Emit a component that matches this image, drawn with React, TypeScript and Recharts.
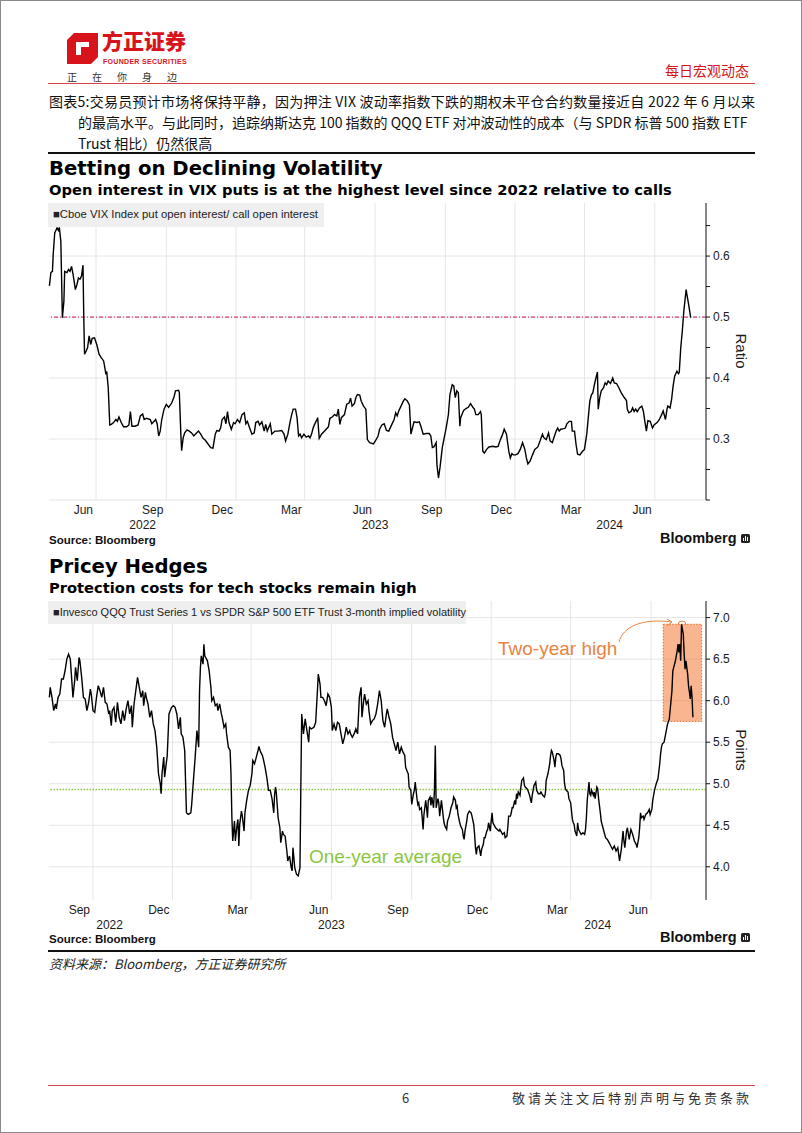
import React from "react";
import {
  LineChart,
  Line,
  XAxis,
  YAxis,
  CartesianGrid,
  ReferenceLine,
  ReferenceArea,
} from "recharts";

// x values are days counted from 1 Jan 2022
const vixDay = [
  90, 92, 94, 95, 97, 100, 102, 103, 105, 107, 109, 110, 113, 115, 117, 119, 121, 124, 126, 128,
  130, 132, 134, 135, 136, 138, 140, 142, 144, 146, 149, 152, 155, 158, 161, 164, 165, 167, 169, 171,
  174, 177, 179, 181, 184, 187, 191, 194, 196, 198, 202, 206, 209, 212, 214, 217, 222, 224, 227, 229,
  231, 233, 235, 237, 240, 243, 246, 250, 253, 255, 259, 260, 262, 263, 265, 267, 270, 273, 276, 279,
  281, 285, 288, 291, 294, 298, 301, 304, 307, 309, 312, 314, 316, 319, 321, 323, 325, 328, 331, 333,
  336, 339, 342, 345, 347, 349, 352, 355, 358, 360, 363, 365, 368, 371, 373, 375, 379, 381, 385, 389,
  394, 397, 399, 402, 405, 407, 409, 412, 414, 416, 418, 420, 423, 426, 429, 431, 433, 435, 437, 440,
  441, 443, 446, 450, 455, 457, 460, 463, 466, 468, 470, 472, 476, 479, 482, 484, 486, 489, 491, 493,
  496, 498, 501, 504, 506, 509, 514, 517, 520, 522, 525, 528, 531, 534, 538, 541, 543, 545, 547, 550,
  553, 555, 558, 561, 563, 565, 567, 571, 574, 576, 579, 583, 587, 589, 591, 593, 596, 597, 599, 601,
  604, 609, 612, 614, 617, 619, 621, 623, 625, 627, 628, 632, 635, 638, 641, 644, 646, 648, 651, 654,
  655, 657, 659, 662, 665, 670, 674, 677, 680, 683, 685, 688, 691, 693, 695, 697, 700, 703, 706, 709,
  712, 714, 716, 719, 722, 725, 729, 732, 735, 737, 740, 743, 745, 748, 750, 753, 755, 757, 759, 763,
  765, 767, 770, 773, 774, 777, 779, 781, 784, 787, 790, 793, 795, 797, 799, 801, 803, 805, 807, 808,
  810, 812, 815, 817, 819, 821, 824, 827, 829, 832, 835, 838, 842, 845, 846, 848, 851, 853, 855, 857,
  859, 862, 865, 867, 869, 871, 873, 876, 879, 881, 885, 888, 891, 893, 896, 898, 899, 902, 904, 906,
  908, 911, 913, 914, 916, 918, 920, 923, 924, 926, 928, 929,
];
const vixRatio = [
  0.551, 0.573, 0.575, 0.603, 0.638, 0.646, 0.642, 0.647, 0.624, 0.499, 0.526, 0.575, 0.573, 0.578, 0.575, 0.583, 0.57, 0.545, 0.553, 0.564,
  0.562, 0.567, 0.585, 0.499, 0.439, 0.444, 0.45, 0.469, 0.455, 0.465, 0.466, 0.455, 0.439, 0.433, 0.428, 0.406, 0.411, 0.384, 0.323, 0.324,
  0.327, 0.332, 0.329, 0.336, 0.327, 0.32, 0.32, 0.323, 0.345, 0.321, 0.321, 0.323, 0.338, 0.341, 0.332, 0.334, 0.332, 0.325, 0.329, 0.332,
  0.325, 0.305, 0.313, 0.332, 0.349, 0.357, 0.352, 0.359, 0.369, 0.379, 0.38, 0.376, 0.308, 0.281, 0.302, 0.31, 0.315, 0.313, 0.31, 0.305,
  0.308, 0.313, 0.308, 0.301, 0.298, 0.291, 0.286, 0.285, 0.308, 0.314, 0.313, 0.318, 0.332, 0.336, 0.325, 0.345, 0.327, 0.316, 0.327, 0.325,
  0.332, 0.327, 0.34, 0.343, 0.325, 0.329, 0.318, 0.308, 0.31, 0.327, 0.329, 0.323, 0.328, 0.313, 0.324, 0.313, 0.325, 0.308, 0.313, 0.313,
  0.314, 0.308, 0.297, 0.308, 0.329, 0.34, 0.349, 0.349, 0.335, 0.305, 0.308, 0.302, 0.308, 0.303, 0.305, 0.302, 0.308, 0.318, 0.324, 0.332,
  0.335, 0.301, 0.308, 0.313, 0.32, 0.334, 0.336, 0.34, 0.338, 0.349, 0.324, 0.335, 0.34, 0.357, 0.359, 0.367, 0.354, 0.358, 0.368, 0.373,
  0.372, 0.362, 0.354, 0.349, 0.299, 0.294, 0.292, 0.298, 0.305, 0.316, 0.323, 0.325, 0.314, 0.313, 0.324, 0.332, 0.343, 0.338, 0.346, 0.354,
  0.362, 0.366, 0.363, 0.356, 0.308, 0.318, 0.328, 0.327, 0.328, 0.321, 0.308, 0.309, 0.309, 0.305, 0.286, 0.287, 0.294, 0.258, 0.236, 0.253,
  0.286, 0.318, 0.34, 0.373, 0.389, 0.387, 0.368, 0.379, 0.376, 0.321, 0.335, 0.347, 0.35, 0.352, 0.358, 0.352, 0.349, 0.34, 0.34, 0.345,
  0.34, 0.28, 0.277, 0.283, 0.287, 0.288, 0.287, 0.288, 0.299, 0.308, 0.316, 0.308, 0.28, 0.269, 0.276, 0.274, 0.274, 0.276, 0.283, 0.294,
  0.283, 0.269, 0.259, 0.264, 0.274, 0.283, 0.287, 0.297, 0.308, 0.302, 0.299, 0.31, 0.297, 0.294, 0.302, 0.313, 0.318, 0.313, 0.316, 0.317,
  0.318, 0.325, 0.329, 0.329, 0.313, 0.313, 0.291, 0.275, 0.274, 0.279, 0.283, 0.308, 0.335, 0.362, 0.372, 0.376, 0.389, 0.4, 0.41, 0.349,
  0.368, 0.379, 0.384, 0.392, 0.389, 0.395, 0.391, 0.4, 0.392, 0.391, 0.384, 0.376, 0.368, 0.363, 0.349, 0.343, 0.345, 0.351, 0.345, 0.349,
  0.345, 0.351, 0.354, 0.346, 0.329, 0.313, 0.33, 0.329, 0.318, 0.323, 0.327, 0.332, 0.34, 0.346, 0.332, 0.349, 0.354, 0.351, 0.365, 0.387,
  0.403, 0.411, 0.407, 0.409, 0.45, 0.477, 0.51, 0.545, 0.537, 0.523, 0.507, 0.499,
];

const qqqDay = [
  193, 194, 196, 198, 200, 201, 203, 205, 207, 209, 211, 213, 215, 217, 219, 220, 222, 223, 225, 227,
  228, 230, 232, 234, 236, 238, 240, 241, 243, 245, 247, 249, 251, 253, 255, 257, 259, 261, 262, 264,
  265, 267, 269, 271, 273, 275, 277, 279, 281, 283, 285, 287, 288, 290, 292, 294, 296, 298, 300, 301,
  303, 304, 306, 308, 310, 312, 314, 316, 318, 320, 321, 322, 324, 325, 328, 330, 333, 335, 337, 339,
  341, 343, 344, 346, 348, 350, 352, 355, 356, 358, 360, 362, 364, 365, 366, 367, 369, 370, 371, 372,
  374, 376, 378, 379, 381, 383, 385, 386, 388, 390, 391, 393, 395, 396, 398, 400, 401, 402, 403, 405,
  406, 408, 409, 410, 411, 413, 414, 416, 417, 419, 421, 423, 425, 426, 428, 430, 432, 433, 435, 437,
  438, 440, 442, 444, 446, 448, 450, 451, 452, 453, 455, 457, 458, 460, 461, 463, 465, 466, 468, 470,
  471, 472, 474, 476, 478, 480, 481, 482, 484, 486, 488, 490, 491, 493, 496, 498, 500, 501, 503, 504,
  506, 508, 510, 512, 514, 516, 517, 519, 521, 523, 525, 527, 529, 531, 533, 535, 537, 538, 540, 542,
  544, 546, 548, 550, 551, 553, 554, 556, 558, 559, 561, 563, 565, 567, 569, 571, 573, 575, 577, 579,
  580, 582, 584, 586, 588, 590, 592, 594, 596, 598, 600, 601, 603, 604, 605, 607, 608, 610, 611, 612,
  614, 615, 616, 617, 619, 620, 621, 622, 624, 625, 626, 627, 629, 630, 631, 633, 634, 635, 636, 638,
  639, 640, 642, 643, 644, 645, 646, 648, 649, 651, 653, 655, 656, 658, 659, 660, 661, 663, 664, 666,
  667, 668, 669, 671, 672, 674, 676, 677, 679, 680, 681, 682, 683, 685, 686, 687, 688, 690, 691, 692,
  694, 695, 696, 698, 699, 700, 701, 703, 704, 706, 708, 709, 710, 712, 714, 715, 717, 718, 719, 721,
  722, 723, 724, 726, 727, 728, 729, 730, 732, 733, 734, 736, 737, 738, 740, 741, 743, 745, 746, 747,
  748, 750, 751, 753, 755, 756, 758, 760, 761, 762, 764, 766, 767, 768, 769, 771, 772, 773, 774, 776,
  778, 779, 780, 782, 783, 784, 785, 787, 788, 790, 792, 793, 794, 795, 797, 798, 799, 801, 802, 804,
  806, 807, 808, 809, 811, 812, 813, 814, 816, 817, 818, 820, 821, 822, 824, 825, 827, 829, 830, 832,
  834, 836, 838, 840, 842, 844, 846, 848, 850, 851, 852, 854, 855, 857, 859, 861, 863, 865, 866, 868,
  869, 870, 871, 873, 874, 876, 878, 880, 881, 883, 884, 886, 888, 890, 892, 893, 894, 895, 897, 901,
  903, 906, 907, 909, 910, 912, 913, 914, 915, 916, 917, 919, 920, 921, 922, 924, 925, 927, 928, 929,
  930,
];
const qqqSpread = [
  6.04, 6.16, 6.04, 5.88, 5.96, 5.9, 6.04, 6.08, 6.26, 6.26, 6.36, 6.5, 6.56, 6.5, 6.2, 6.04, 6.24, 6.4, 6.24, 6.52,
  6.48, 6.28, 6.04, 6.02, 5.88, 5.98, 6.14, 6.08, 5.88, 5.86, 6.04, 6.18, 6.12, 6.04, 6.16, 5.98, 5.96, 5.84, 5.88, 5.7,
  5.88, 5.92, 5.74, 5.98, 5.8, 5.72, 5.88, 5.76, 5.9, 6.0, 5.84, 5.94, 5.68, 5.96, 6.12, 6.28, 6.16, 6.04, 6.12, 5.94,
  6.1, 6.04, 5.96, 5.8, 5.88, 5.72, 5.64, 5.44, 5.12, 5.0, 4.88, 5.12, 5.32, 5.08, 5.34, 5.84, 5.92, 5.94, 5.92, 5.84,
  5.66, 5.8, 5.6, 5.56, 5.4, 4.65, 4.63, 4.65, 4.75, 5.04, 5.32, 5.64, 5.44, 6.12, 6.4, 6.54, 6.44, 6.68, 6.54, 6.52,
  6.48, 6.36, 6.16, 6.0, 6.04, 5.94, 5.96, 5.88, 5.96, 5.84, 5.8, 5.68, 5.72, 5.6, 5.44, 5.4, 5.12, 4.61, 4.31, 4.55,
  4.31, 4.51, 4.57, 4.25, 4.51, 4.67, 4.61, 4.43, 4.65, 4.8, 4.92, 4.98, 5.12, 5.28, 5.24, 5.32, 5.4, 5.45, 5.38, 5.34,
  5.3, 5.2, 5.08, 4.92, 4.92, 4.82, 4.65, 4.88, 4.96, 4.88, 4.59, 4.47, 4.29, 4.43, 4.39, 4.37, 4.19, 4.07, 4.13, 3.99,
  3.95, 4.23, 3.99, 3.91, 3.89, 3.99, 4.96, 5.84, 5.6, 5.78, 5.64, 5.5, 5.68, 5.66, 5.68, 5.74, 6.12, 6.32, 6.2, 6.04,
  6.04, 6.0, 5.94, 6.08, 6.04, 5.92, 5.64, 5.72, 5.64, 5.74, 5.72, 5.6, 5.48, 5.56, 5.68, 5.6, 5.64, 5.6, 5.56, 5.6,
  5.66, 5.6, 6.04, 6.16, 5.8, 6.0, 6.08, 5.96, 6.0, 5.88, 5.72, 5.76, 5.78, 5.84, 5.96, 6.12, 6.0, 5.76, 5.68, 5.84,
  5.9, 5.8, 5.72, 5.56, 5.48, 5.4, 5.5, 5.36, 5.44, 5.38, 5.34, 5.2, 5.14, 5.12, 4.96, 4.92, 4.75, 4.88, 4.92, 5.02,
  4.82, 4.75, 4.77, 4.69, 4.71, 4.59, 4.45, 4.63, 4.8, 4.71, 4.59, 4.8, 4.84, 4.74, 4.84, 4.71, 4.92, 5.46, 4.71, 4.82,
  4.77, 4.61, 4.8, 4.71, 4.61, 4.53, 4.49, 4.45, 4.55, 4.61, 4.71, 4.77, 4.84, 4.8, 4.71, 4.73, 4.63, 4.53, 4.49, 4.45,
  4.37, 4.33, 4.43, 4.55, 4.63, 4.67, 4.65, 4.61, 4.51, 4.39, 4.23, 4.15, 4.23, 4.25, 4.19, 4.13, 4.21, 4.27, 4.35, 4.35,
  4.43, 4.45, 4.53, 4.43, 4.55, 4.65, 4.53, 4.49, 4.47, 4.45, 4.43, 4.45, 4.43, 4.39, 4.41, 4.35, 4.37, 4.47, 4.61, 4.61,
  4.65, 4.71, 4.71, 4.8, 4.75, 4.88, 4.82, 4.9, 4.86, 4.96, 5.04, 5.07, 4.98, 4.96, 4.94, 4.92, 4.86, 4.77, 4.86, 4.92,
  4.98, 5.02, 4.92, 4.88, 4.88, 4.9, 4.86, 4.84, 4.88, 5.04, 5.12, 5.24, 5.34, 5.4, 5.38, 5.28, 5.2, 5.32, 5.36, 5.36,
  5.34, 5.3, 5.22, 5.16, 5.0, 4.94, 4.92, 4.9, 4.82, 4.77, 4.57, 4.53, 4.51, 4.43, 4.37, 4.53, 4.45, 4.41, 4.39, 4.41,
  4.39, 4.45, 4.59, 4.8, 5.02, 4.88, 4.86, 4.92, 4.86, 4.9, 4.82, 4.96, 4.94, 4.82, 4.65, 4.55, 4.47, 4.39, 4.35, 4.33,
  4.29, 4.25, 4.21, 4.25, 4.19, 4.23, 4.07, 4.21, 4.43, 4.31, 4.23, 4.43, 4.47, 4.33, 4.45, 4.39, 4.31, 4.27, 4.23, 4.35,
  4.47, 4.65, 4.59, 4.61, 4.57, 4.63, 4.65, 4.69, 4.63, 4.69, 4.8, 4.92, 5.0, 5.06, 5.24, 5.36, 5.44, 5.48, 5.5, 5.72,
  5.78, 6.12, 6.36, 6.44, 6.48, 6.6, 6.68, 6.58, 6.68, 6.48, 6.92, 6.8, 6.56, 6.38, 6.48, 6.32, 6.18, 6.02, 6.18, 6.04,
  5.8,
];

const vixMonthTicks = [151, 243, 334, 424, 516, 608, 699, 790, 882];
const vixMonthLabels = ["Jun", "Sep", "Dec", "Mar", "Jun", "Sep", "Dec", "Mar", "Jun"];
const vixYearTicks = [212, 516, 823];
const qqqMonthTicks = [243, 334, 424, 516, 608, 699, 790, 882];
const qqqMonthLabels = ["Sep", "Dec", "Mar", "Jun", "Sep", "Dec", "Mar", "Jun"];
const qqqYearTicks = [262, 516, 821];
const yearLabels = ["2022", "2023", "2024"];

const vixAxisTicks = [0.2, 0.25, 0.3, 0.35, 0.4, 0.45, 0.5, 0.55, 0.6, 0.65];
const vixAxisLabels = ["", "", "0.3", "", "0.4", "", "0.5", "", "0.6", ""];
const vixGridValues = [0.2, 0.3, 0.4, 0.5, 0.6];
const qqqAxisTicks = [4, 4.5, 5, 5.5, 6, 6.5, 7];

const vixMarkerLevel = 0.5;
const qqqOneYearAverage = 4.93;
const qqqHighBox = { x1: 896, x2: 940, y1: 5.75, y2: 6.92 };

const vixData = vixDay.map((day, i) => ({ day, v: vixRatio[i] }));
const qqqData = qqqDay.map((day, i) => ({ day, v: qqqSpread[i] }));

const BB = "'Liberation Sans', Arial, sans-serif";
const TITLE = "'DejaVu Sans', sans-serif";
const CJK = "'Noto Sans CJK SC', sans-serif";
const GRID = "#e6e6e6";

function monthTick(ticks: number[], labels: string[]) {
  return (p: any) => (
    <text x={p.x - 3} y={p.y + 14} textAnchor="end" fontSize={12} fill="#1a1a1a" fontFamily={BB}>
      {labels[ticks.indexOf(p.payload.value)]}
    </text>
  );
}

function yearTick(ticks: number[]) {
  return (p: any) => (
    <text x={p.x} y={p.y + 12} textAnchor="middle" fontSize={12} fill="#1a1a1a" fontFamily={BB}>
      {yearLabels[ticks.indexOf(p.payload.value)]}
    </text>
  );
}

function Txt({ x, y, size, children, style }: any) {
  return (
    <div
      style={{
        position: "absolute",
        left: x,
        top: y - size * 0.6,
        fontSize: size,
        lineHeight: `${size * 1.2}px`,
        whiteSpace: "nowrap",
        ...style,
      }}
    >
      {children}
    </div>
  );
}

function Rule({ y, h, color }: any) {
  return <div style={{ position: "absolute", left: 47, top: y, width: 707, height: h, background: color }} />;
}

function BloombergMark({ y }: { y: number }) {
  return (
    <>
      <Txt x={659} y={y} size={14.5} style={{ fontFamily: BB, fontWeight: 700, color: "#111" }}>
        Bloomberg
      </Txt>
      <svg style={{ position: "absolute", left: 740, top: y - 5 }} width={9} height={10}>
        <rect x={0} y={0} width={9} height={9} rx={1.5} fill="#222" />
        <rect x={2} y={4} width={1} height={3} fill="#fff" />
        <rect x={4} y={2} width={1} height={5} fill="#fff" />
        <rect x={6} y={3} width={1} height={4} fill="#fff" />
      </svg>
    </>
  );
}

export default function App() {
  return (
    <div
      style={{
        position: "absolute",
        left: 0,
        top: 0,
        width: 802,
        height: 1133,
        background: "#fff",
        overflow: "hidden",
        boxSizing: "border-box",
        border: "1px solid #8a8a8a",
      }}
    >
      {/* header */}
      <svg style={{ position: "absolute", left: 66, top: 32 }} width={31} height={31}>
        <path d="M0 7 L7 0 L31 0 L31 24 L24 31 L0 31 Z" fill="#d7141c" />
        <path d="M9 9 L22 9 L22 14 L14 14 L14 22 L9 22 Z" fill="#fff" />
      </svg>
      <Txt x={101} y={41} size={21} style={{ fontFamily: CJK, fontWeight: 900, color: "#d7141c", lineHeight: "22px" }}>
        方正证券
      </Txt>
      <Txt x={102} y={61} size={7} style={{ fontFamily: BB, fontWeight: 700, color: "#d7141c", lineHeight: "8px", letterSpacing: 0.3 }}>
        FOUNDER SECURITIES
      </Txt>
      <Txt x={66} y={76} size={10} style={{ fontFamily: CJK, color: "#333", letterSpacing: 15 }}>
        正在你身边
      </Txt>
      <Txt x={664} y={69} size={14} style={{ fontFamily: CJK, color: "#d7141c" }}>
        每日宏观动态
      </Txt>
      <Rule y={82} h={1} color="#d6424e" />
      <Txt x={48} y={100} size={14} style={{ fontFamily: CJK, color: "#111", letterSpacing: 0.25 }}>
        图表5:交易员预计市场将保持平静，因为押注 VIX 波动率指数下跌的期权未平仓合约数量接近自 2022 年 6 月以来
      </Txt>
      <Txt x={77} y={121} size={14} style={{ fontFamily: CJK, color: "#111" }}>
        的最高水平。与此同时，追踪纳斯达克 100 指数的 QQQ ETF 对冲波动性的成本（与 SPDR 标普 500 指数 ETF
      </Txt>
      <Txt x={77} y={142} size={14} style={{ fontFamily: CJK, color: "#111" }}>
        Trust 相比）仍然很高
      </Txt>
      <Rule y={151} h={2} color="#111" />

      {/* chart 1 */}
      <Txt x={48} y={168} size={19.7} style={{ fontFamily: TITLE, fontWeight: 700, color: "#000" }}>
        Betting on Declining Volatility
      </Txt>
      <Txt x={48} y={189} size={14.7} style={{ fontFamily: TITLE, fontWeight: 700, color: "#000" }}>
        Open interest in VIX puts is at the highest level since 2022 relative to calls
      </Txt>
      <div style={{ position: "absolute", left: 0, top: 190 }}>
        <LineChart width={802} height={350} data={vixData} margin={{ top: 12, right: 47, bottom: 8, left: 48 }}>
          <CartesianGrid
            xAxisId="m"
            stroke={GRID}
            verticalValues={vixMonthTicks}
            horizontalValues={vixGridValues}
          />
          <XAxis
            xAxisId="m"
            type="number"
            dataKey="day"
            domain={[89.5, 949]}
            ticks={vixMonthTicks}
            interval={0}
            axisLine={false}
            tickLine={false}
            tickSize={0}
            tickMargin={0}
            height={17}
            tick={monthTick(vixMonthTicks, vixMonthLabels)}
          />
          <XAxis
            xAxisId="y"
            type="number"
            dataKey="day"
            domain={[89.5, 949]}
            ticks={vixYearTicks}
            interval={0}
            axisLine={false}
            tickLine={false}
            tickSize={0}
            tickMargin={0}
            height={16}
            tick={yearTick(vixYearTicks)}
          />
          <YAxis
            orientation="right"
            type="number"
            domain={[0.2, 0.687]}
            ticks={vixAxisTicks}
            interval={0}
            width={50}
            tickSize={4}
            tickMargin={3}
            axisLine={{ stroke: "#111" }}
            tickLine={{ stroke: "#111" }}
            tick={{ fontSize: 12, fill: "#1a1a1a", fontFamily: BB }}
            tickFormatter={(v: number) => vixAxisLabels[vixAxisTicks.indexOf(v)]}
          />
          <ReferenceLine
            xAxisId="m"
            y={vixMarkerLevel}
            stroke="#d4456b"
            strokeWidth={1.3}
            strokeDasharray="4 2 1 2"
          />
          <Line
            xAxisId="m"
            type="linear"
            dataKey="v"
            stroke="#000"
            strokeWidth={1.4}
            dot={false}
            isAnimationActive={false}
          />
        </LineChart>
      </div>
      <div style={{ position: "absolute", left: 47, top: 202, width: 276, height: 24, background: "#efefef" }} />
      <Txt x={52} y={214} size={11.3} style={{ fontFamily: BB, color: "#222" }}>
        ■Cboe VIX Index put open interest/ call open interest
      </Txt>
      <Txt x={48} y={540} size={11.5} style={{ fontFamily: BB, fontWeight: 700, color: "#111" }}>
        Source: Bloomberg
      </Txt>
      <BloombergMark y={538} />

      {/* chart 2 */}
      <Txt x={48} y={566} size={19.7} style={{ fontFamily: TITLE, fontWeight: 700, color: "#000" }}>
        Pricey Hedges
      </Txt>
      <Txt x={48} y={587} size={14.7} style={{ fontFamily: TITLE, fontWeight: 700, color: "#000" }}>
        Protection costs for tech stocks remain high
      </Txt>
      <div style={{ position: "absolute", left: 0, top: 588 }}>
        <LineChart width={802} height={352} data={qqqData} margin={{ top: 12, right: 47, bottom: 8, left: 48 }}>
          <CartesianGrid
            xAxisId="m"
            stroke={GRID}
            verticalValues={qqqMonthTicks}
            horizontalValues={qqqAxisTicks}
          />
          <XAxis
            xAxisId="m"
            type="number"
            dataKey="day"
            domain={[192.6, 945]}
            ticks={qqqMonthTicks}
            interval={0}
            axisLine={false}
            tickLine={false}
            tickSize={0}
            tickMargin={0}
            height={17}
            tick={monthTick(qqqMonthTicks, qqqMonthLabels)}
          />
          <XAxis
            xAxisId="y"
            type="number"
            dataKey="day"
            domain={[192.6, 945]}
            ticks={qqqYearTicks}
            interval={0}
            axisLine={false}
            tickLine={false}
            tickSize={0}
            tickMargin={0}
            height={16}
            tick={yearTick(qqqYearTicks)}
          />
          <YAxis
            orientation="right"
            type="number"
            domain={[3.6, 7.2]}
            ticks={qqqAxisTicks}
            interval={0}
            width={50}
            tickSize={4}
            tickMargin={3}
            axisLine={{ stroke: "#111" }}
            tickLine={{ stroke: "#111" }}
            tick={{ fontSize: 12, fill: "#1a1a1a", fontFamily: BB }}
            tickFormatter={(v: number) => v.toFixed(1)}
          />
          <ReferenceLine
            xAxisId="m"
            y={qqqOneYearAverage}
            stroke="#8cc63f"
            strokeWidth={1.5}
            strokeDasharray="1.5 1.5"
          />
          <Line
            xAxisId="m"
            type="linear"
            dataKey="v"
            stroke="#000"
            strokeWidth={1.4}
            dot={false}
            isAnimationActive={false}
          />
          <ReferenceArea
            xAxisId="m"
            x1={qqqHighBox.x1}
            x2={qqqHighBox.x2}
            y1={qqqHighBox.y1}
            y2={qqqHighBox.y2}
            fill="#f36c1f"
            fillOpacity={0.5}
            stroke="#e0702a"
            strokeDasharray="1.5 1.5"
          />
        </LineChart>
      </div>
      <div style={{ position: "absolute", left: 47, top: 600, width: 418, height: 23, background: "#efefef" }} />
      <Txt x={52} y={611.5} size={11} style={{ fontFamily: BB, color: "#222" }}>
        ■Invesco QQQ Trust Series 1 vs SPDR S&amp;P 500 ETF Trust 3-month implied volatility
      </Txt>
      <Txt x={497} y={648} size={19} style={{ fontFamily: BB, color: "#e8843f" }}>
        Two-year high
      </Txt>
      <Txt x={308} y={856} size={19} style={{ fontFamily: BB, color: "#8cc63f" }}>
        One-year average
      </Txt>
      <Txt x={48} y={939} size={11.5} style={{ fontFamily: BB, fontWeight: 700, color: "#111" }}>
        Source: Bloomberg
      </Txt>
      <BloombergMark y={937} />

      {/* overlay: axis titles and arrow */}
      <svg style={{ position: "absolute", left: 0, top: 0, pointerEvents: "none" }} width={802} height={1133}>
        <text x={735} y={350} transform="rotate(90 735 350)" textAnchor="middle" fontSize={15} fontFamily={BB} fill="#1a1a1a">
          Ratio
        </text>
        <text x={735} y={749} transform="rotate(90 735 749)" textAnchor="middle" fontSize={15} fontFamily={BB} fill="#1a1a1a">
          Points
        </text>
        <path d="M618 641 C622 626 640 617 671 621" fill="none" stroke="#e8843f" strokeWidth={1} />
        <path d="M666 618 L671 621 L666 625" fill="none" stroke="#e8843f" strokeWidth={1} />
        <path d="M677 624 A4 4 0 0 1 685 624" fill="none" stroke="#e8843f" strokeWidth={1} />
      </svg>

      {/* footer */}
      <Rule y={949} h={2} color="#111" />
      <Txt x={48} y={963} size={13} style={{ fontFamily: CJK, fontStyle: "italic", color: "#222" }}>
        资料来源：Bloomberg，方正证券研究所
      </Txt>
      <Rule y={1084} h={1} color="#d6424e" />
      <Txt x={401} y={1097} size={13} style={{ fontFamily: CJK, color: "#333" }}>
        6
      </Txt>
      <Txt x={511} y={1097} size={13} style={{ fontFamily: CJK, color: "#333", letterSpacing: 3 }}>
        敬请关注文后特别声明与免责条款
      </Txt>
    </div>
  );
}
